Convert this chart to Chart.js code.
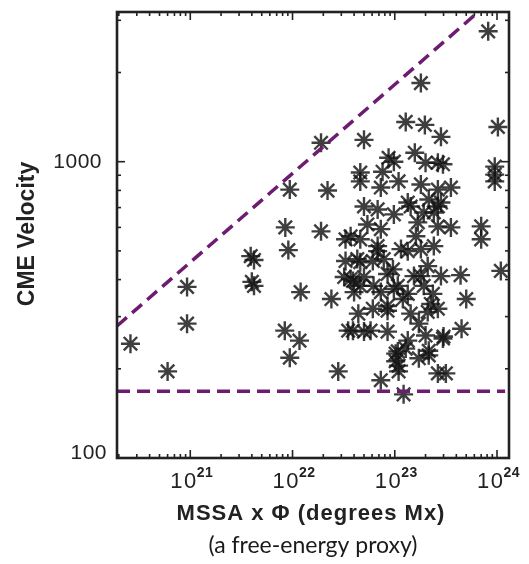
<!DOCTYPE html>
<html>
<head>
<meta charset="utf-8">
<script src="https://cdn.jsdelivr.net/npm/chart.js@4.4.0/dist/chart.umd.min.js"></script>
<style>
  html, body { margin: 0; padding: 0; background: #fff; }
  #wrap { width: 529px; height: 564px; }
</style>
</head>
<body>
<div id="wrap"><canvas id="cmeChart" width="529" height="564"></canvas></div>
<script>
// free-energy proxy (Mx) and CME speed (km/s)
const mssaFlux = [
  2.6e20, 6.0e20, 9.3e20, 9.3e20, 3.9e21, 4.2e21, 4.0e21, 4.2e21, 9.4e21, 8.5e21,
  9.1e21, 1.2e22, 8.4e21, 1.17e22, 9.4e21, 1.9e22, 1.9e22, 2.2e22, 2.4e22, 2.8e22,
  5.0e22, 4.6e22, 8.7e22, 9.8e22, 1.28e23, 1.97e23, 2.83e23, 1.57e23, 2.0e23, 2.64e23,
  2.96e23, 1.8e23, 8.2e23, 1.02e24, 9.5e23, 9.5e23, 9.5e23, 7.0e23, 7.0e23, 1.09e24,
  4.4e23, 5.0e23, 4.5e23, 2.64e23, 3.16e23, 7.3e22, 1.22e23, 1.02e23, 1.09e23,
  4.6e22, 7.3e22, 1.09e23, 1.8e23, 2.64e23, 3.54e23, 5.0e22, 6.8e22, 1.34e23, 1.92e23,
  2.64e23, 3.7e22, 4.6e22, 7.3e22, 1.68e23, 2.64e23, 3.54e23, 4.3e22, 6.8e22, 1.34e23,
  1.8e23, 2.41e23, 3.7e22, 5.0e22, 8.5e22, 1.54e23, 2.1e23, 4.0e22, 6.2e22, 7.3e22,
  1.07e23, 1.34e23, 1.92e23, 8.5e22, 1.43e23, 2.1e23, 2.64e23, 2.25e23, 3.9e22, 5.8e22,
  8.5e22, 1.34e23, 2.0e23, 3.0e23, 2.15e23, 1.07e23, 6.8e22, 4.6e22, 7.8e22, 1.15e23,
  3.9e22, 4.6e22, 9.8e22, 1.8e23, 8.5e22, 1.43e23, 2.41e23, 1.02e23, 1.09e23, 2.83e23,
  2.83e23, 2.96e23, 3.3e22, 3.2e22, 3.5e22, 5.0e22, 2.15e23,
  3.3e22, 5.4e22, 9.8e22, 6.1e22, 9.6e22, 1.2e23, 1.72e23, 2.36e23, 6.1e22, 4.4e22,
  1.61e23, 2.15e23, 7.6e22, 1.28e23, 1.72e23
];
const cmeSpeed = [
  243, 196, 378, 284, 480, 466, 393, 381, 805, 600,
  503, 363, 269, 249, 218, 1158, 582, 799, 344, 196,
  1185, 919, 1031, 1000, 1362, 1331, 1213, 1072, 992, 992,
  980, 1842, 2754, 1310, 962, 904, 858, 605, 547, 428,
  414, 344, 273, 193, 193, 183, 164, 225, 205,
  858, 818, 858, 838, 805, 818, 706, 690, 728, 674,
  706, 560, 547, 592, 624, 605, 600, 469, 499, 499,
  507, 519, 402, 408, 418, 411, 444, 363, 381, 363,
  381, 358, 381, 314, 307, 311, 319, 331, 269, 269,
  267, 249, 259, 257, 230, 229, 519, 458, 469, 507,
  396, 381, 372, 411, 326, 706, 674, 212, 196, 728,
  411, 253, 547, 408, 269, 267, 222,
  462, 614, 664, 462, 433, 344, 284, 358, 319, 307,
  560, 745, 925, 234, 217
];

// dashed envelope lines
const upperX = [1.92e20, 6.0e23];
const upperV = [279, 3117];
const floorX = [1.92e20, 1.2e24];
const floorV = [168, 168];

const xTickExps = [21, 22, 23, 24];
const yTickLabels = [100, 1000];

const xRange = [1.92e20, 1.31e24];
const yRange = [100, 3200];

const ink = '#222222';
const purple = '#6e1c72';

function pairs(xs, ys) {
  return xs.map((x, i) => ({ x: x, y: ys[i] }));
}

const idlFrame = {
  id: 'idlFrame',
  afterDatasetsDraw(chart) {
    const ctx = chart.ctx;
    const a = chart.chartArea;
    const xs = chart.scales.x;
    const ys = chart.scales.y;

    function seg(x1, y1, x2, y2) {
      ctx.beginPath();
      ctx.moveTo(x1, y1);
      ctx.lineTo(x2, y2);
      ctx.stroke();
    }

    ctx.save();
    ctx.strokeStyle = ink;
    ctx.lineWidth = 1.6;

    // log ticks on all four sides, pointing inward
    for (let e = 20; e <= 24; e++) {
      for (let m = 1; m <= 9; m++) {
        const v = m * Math.pow(10, e);
        if (v <= xRange[0] || v >= xRange[1]) continue;
        const px = xs.getPixelForValue(v);
        const len = m === 1 ? 8 : 4;
        seg(px, a.bottom, px, a.bottom - len);
        seg(px, a.top, px, a.top + len);
      }
    }
    for (let e = 2; e <= 3; e++) {
      for (let m = 1; m <= 9; m++) {
        const v = m * Math.pow(10, e);
        if (v <= yRange[0] || v >= yRange[1]) continue;
        const py = ys.getPixelForValue(v);
        const len = m === 1 ? 8 : 4;
        seg(a.left, py, a.left + len, py);
        seg(a.right, py, a.right - len, py);
      }
    }

    ctx.lineWidth = 2.6;
    ctx.strokeRect(a.left, a.top, a.right - a.left, a.bottom - a.top);

    // y tick labels
    ctx.fillStyle = ink;
    ctx.font = '21px "Liberation Sans", Arial, sans-serif';
    ctx.letterSpacing = '0.5px';
    ctx.textAlign = 'right';
    ctx.textBaseline = 'middle';
    yTickLabels.forEach(v => {
      const py = ys.getPixelForValue(v);
      if (v === 100) {
        ctx.fillText(String(v), a.left - 10, py - 5);
      } else {
        ctx.fillText(String(v), a.left - 15, py + 1);
      }
    });

    // x tick labels: 10 with a raised exponent
    ctx.textAlign = 'left';
    ctx.textBaseline = 'alphabetic';
    xTickExps.forEach(e => {
      const px = xs.getPixelForValue(Math.pow(10, e));
      ctx.font = '22px "Liberation Sans", Arial, sans-serif';
      ctx.letterSpacing = '1.5px';
      const wBase = ctx.measureText('10').width;
      ctx.font = 'bold 14px "Liberation Sans", Arial, sans-serif';
      ctx.letterSpacing = '0.5px';
      const wExp = ctx.measureText(String(e)).width;
      const x0 = px + 2 - (wBase + wExp) / 2;
      ctx.font = '22px "Liberation Sans", Arial, sans-serif';
      ctx.letterSpacing = '1.5px';
      ctx.fillText('10', x0, a.bottom + 30);
      ctx.font = 'bold 14px "Liberation Sans", Arial, sans-serif';
      ctx.letterSpacing = '0.5px';
      ctx.fillText(String(e), x0 + wBase - 1, a.bottom + 19);
    });

    // axis titles
    ctx.textAlign = 'center';
    ctx.font = 'bold 22px "Liberation Sans", Arial, sans-serif';
    ctx.letterSpacing = '1px';
    ctx.fillText('MSSA x \u03A6 (degrees Mx)', 311, a.bottom + 62);

    ctx.font = '23px Lato, "Open Sans", sans-serif';
    ctx.letterSpacing = '0px';
    ctx.fillStyle = '#1a1a1a';
    ctx.textBaseline = 'middle';
    ctx.fillText('(a free-energy proxy)', 313, 546);

    ctx.save();
    ctx.translate(28, 234);
    ctx.rotate(-Math.PI / 2);
    ctx.fillStyle = ink;
    ctx.font = 'bold 23px "Liberation Sans", Arial, sans-serif';
    ctx.textBaseline = 'middle';
    ctx.fillText('CME Velocity', 0, 0);
    ctx.restore();

    ctx.restore();
  }
};

const whiteBg = {
  id: 'whiteBg',
  beforeDraw(chart) {
    const ctx = chart.ctx;
    ctx.save();
    ctx.fillStyle = '#ffffff';
    ctx.fillRect(0, 0, chart.width, chart.height);
    ctx.restore();
  }
};

new Chart(document.getElementById('cmeChart'), {
  type: 'scatter',
  data: {
    datasets: [
      {
        label: 'CMEs',
        data: pairs(mssaFlux, cmeSpeed),
        pointStyle: 'star',
        pointRadius: 9.5,
        borderWidth: 2.4,
        borderColor: 'rgba(20,20,20,0.82)',
        backgroundColor: 'rgba(20,20,20,0.82)',
        order: 2
      },
      {
        label: 'upper',
        data: pairs(upperX, upperV),
        showLine: true,
        pointRadius: 0,
        borderColor: purple,
        borderWidth: 3.5,
        borderDash: [13, 7],
        order: 1
      },
      {
        label: 'floor',
        data: pairs(floorX, floorV),
        showLine: true,
        pointRadius: 0,
        borderColor: purple,
        borderWidth: 3.5,
        borderDash: [13, 7],
        order: 1
      }
    ]
  },
  options: {
    responsive: false,
    animation: false,
    layout: { padding: { left: 117, right: 20, top: 12, bottom: 106 } },
    scales: {
      x: { type: 'logarithmic', display: false, min: xRange[0], max: xRange[1] },
      y: { type: 'logarithmic', display: false, min: yRange[0], max: yRange[1] }
    },
    plugins: {
      legend: { display: false },
      tooltip: { enabled: false }
    }
  },
  plugins: [whiteBg, idlFrame]
});
</script>
</body>
</html>
